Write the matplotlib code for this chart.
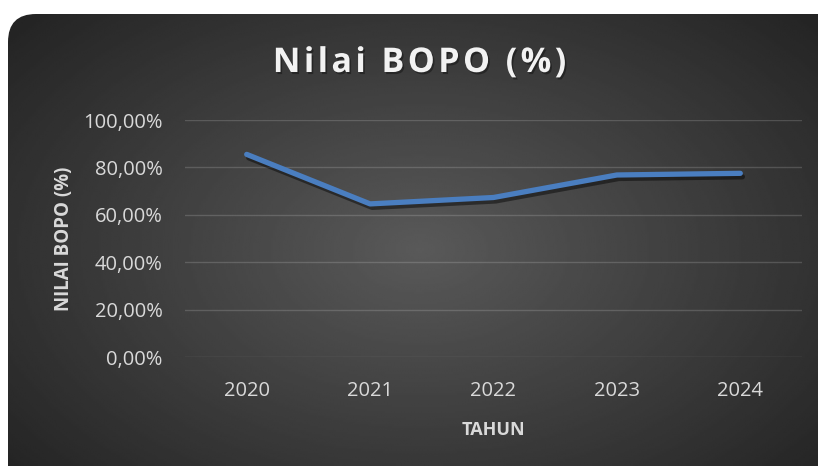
import numpy as np
import matplotlib.pyplot as plt
from matplotlib.patches import FancyBboxPatch
from matplotlib.ticker import FuncFormatter
import matplotlib.patheffects as pe

# Data
years = ['2020', '2021', '2022', '2023', '2024']
bopo = [85.5, 64.6, 67.3, 76.8, 77.5]
y_ticks = [0, 20, 40, 60, 80, 100]
title = 'Nilai BOPO (%)'

plt.rcParams['font.family'] = ['Open Sans', 'DejaVu Sans']

W, H = 818, 466
fig = plt.figure(figsize=(W / 100, H / 100), dpi=100)
fig.patch.set_facecolor('white')

# Background: rounded dark box with radial gradient
bg = fig.add_axes([0, 0, 1, 1])
bg.set_xlim(0, W)
bg.set_ylim(H, 0)
bg.axis('off')
gx, gy = np.meshgrid(np.linspace(0, W, 400), np.linspace(0, H, 240))
r = np.sqrt(((gx - 420) / 520) ** 2 + ((gy - 250) / 330) ** 2)
shade = np.clip(0.35 - 0.2 * r, 0.14, 0.35)
img = bg.imshow(shade, cmap='gray', vmin=0, vmax=1, extent=[0, W, H, 0],
                aspect='auto', interpolation='bilinear')
box = FancyBboxPatch((8, 14), W + 30, H + 30, boxstyle='round,pad=0,rounding_size=28',
                     facecolor='none', edgecolor='none', transform=bg.transData)
bg.add_patch(box)
img.set_clip_path(box)

# Main plot area
ax = fig.add_axes([185 / W, 1 - 357 / H, 617 / W, 237 / H])
ax.patch.set_alpha(0)
x = np.arange(len(years))
ax.plot(x, bopo, color='#4a7ec0', linewidth=3.8, solid_capstyle='round',
        solid_joinstyle='round', zorder=3,
        path_effects=[pe.SimpleLineShadow(offset=(1.5, -2.5), shadow_color='black', alpha=0.45),
                      pe.Normal()])

ax.set_xlim(-0.5, len(years) - 0.5)
ax.set_ylim(0, 100)
ax.set_yticks(y_ticks)
ax.yaxis.set_major_formatter(FuncFormatter(lambda v, p: f'{v:.2f}%'.replace('.', ',')))
ax.set_xticks(x)
ax.set_xticklabels(years)
ax.grid(axis='y', color='white', alpha=0.16, linewidth=1)
ax.set_axisbelow(True)
for s in ax.spines.values():
    s.set_visible(False)
ax.tick_params(axis='both', length=0, colors='#d9d9d9', labelsize=14.5)
ax.tick_params(axis='y', pad=16)
ax.tick_params(axis='x', pad=17)

ax.set_xlabel('TAHUN', color='#d9d9d9', fontsize=13, fontweight='bold', labelpad=15)
ax.set_ylabel('NILAI BOPO (%)', color='#d9d9d9', fontsize=13.5, fontweight='bold', labelpad=7)

# title with a little letter spacing (hair spaces)
fig.text(419 / W, 1 - 63 / H, '\u200a'.join(title),
         ha='center', va='center', color='#f2f2f2', fontsize=24.5, fontweight='bold',
         path_effects=[pe.withSimplePatchShadow(offset=(1.2, -1.5), shadow_rgbFace='black', alpha=0.35)])

fig.savefig('out.png', dpi=100)
